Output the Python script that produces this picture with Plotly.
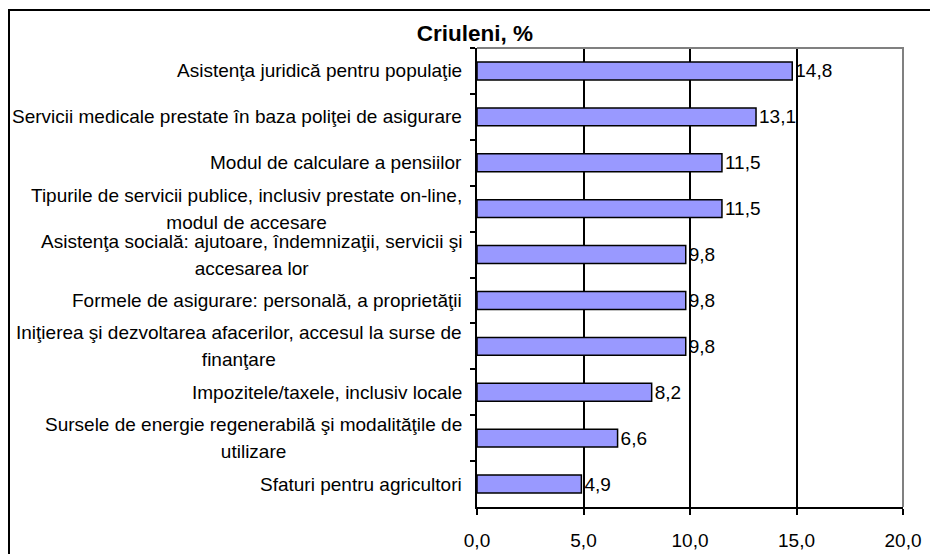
import plotly.graph_objects as go

categories = [
    "Asistenţa juridică pentru populaţie",
    "Servicii medicale prestate în baza poliţei de asigurare",
    "Modul de calculare a pensiilor",
    "Tipurile de servicii publice, inclusiv prestate on-line,<br>modul de accesare",
    "Asistenţa socială: ajutoare, îndemnizaţii, servicii şi<br>accesarea lor",
    "Formele de asigurare: personală, a proprietăţii",
    "Iniţierea şi dezvoltarea afacerilor, accesul la surse de<br>finanţare",
    "Impozitele/taxele, inclusiv locale",
    "Sursele de energie regenerabilă şi modalităţile de<br>utilizare",
    "Sfaturi pentru agricultori",
]
values = [14.8, 13.1, 11.5, 11.5, 9.8, 9.8, 9.8, 8.2, 6.6, 4.9]
x_ticks = [0, 5, 10, 15, 20]
title_text = "<b>Criuleni, %</b>"

FONT = "Liberation Sans, Arial, sans-serif"
FS = 19
OFF = 8  # page body offset

fig = go.Figure()
fig.add_trace(go.Bar(
    x=values, y=categories, orientation="h",
    marker=dict(color="#9999FF", line=dict(color="black", width=1.5)),
    width=0.39,
    texttemplate="%{x:.1f}", textposition="outside", constraintext="none",
    textfont=dict(family=FONT, size=FS, color="black"),
    cliponaxis=False,
))

for cat in categories:
    lines = cat.split("<br>")
    txt = "<br>".join(f"<span style='font-size:{FS}px'>{ln}</span>" for ln in lines)
    fig.add_annotation(
        x=0, xref="paper", y=cat, yref="y",
        text=txt, showarrow=False, xanchor="right", yanchor="middle",
        align="center", xshift=-13,
        font=dict(family=FONT, size=20.5 if len(lines) > 1 else FS, color="black"),
    )

# target window-pixel positions
L, R, T, B = 477 - OFF, 903 - OFF, 48 - OFF, 507 - OFF
W, H = R - L, B - T
def px(xp): return (xp - OFF - L) / W
def py(yp): return (B - (yp - OFF)) / H
fig.add_shape(type="rect", xref="paper", yref="paper",
              x0=px(9), x1=px(960), y0=py(575), y1=py(10),
              line=dict(color="black", width=2), layer="above")
fig.add_shape(type="path", xref="paper", yref="paper",
              path="M 0,1 L 1,1 L 1,0", line=dict(color="#808080", width=2), layer="above")

fig.update_layout(
    width=938, height=554,
    margin=dict(l=L, r=938 - R, t=T, b=554 - B, autoexpand=False),
    paper_bgcolor="white", plot_bgcolor="white",
    separators=",.",
    showlegend=False,
    font=dict(family=FONT, size=FS, color="black"),
    title=dict(text=title_text, x=(475 - OFF) / 938, xref="container", xanchor="center",
               y=1 - (33 - OFF) / 554, yref="container", yanchor="middle",
               font=dict(family=FONT, size=22.5, color="black"), automargin=False),
    xaxis=dict(range=[0, 20], tickvals=x_ticks, tickformat=".1f",
               showgrid=True, gridcolor="black", gridwidth=1.5,
               zeroline=False, showline=True, linecolor="black", linewidth=2,
               ticks="outside", ticklen=6, tickwidth=1.5, tickcolor="black",
               ticklabelstandoff=9, automargin=False,
               tickfont=dict(family=FONT, size=FS, color="black")),
    yaxis=dict(autorange="reversed", showticklabels=False, automargin=False,
               showgrid=False, zeroline=False, showline=True, linecolor="black", linewidth=2,
               ticks="outside", tickson="boundaries", ticklen=5, tickwidth=1.5, tickcolor="black"),
    bargap=0.61,
)

fig.write_html("out.html")
